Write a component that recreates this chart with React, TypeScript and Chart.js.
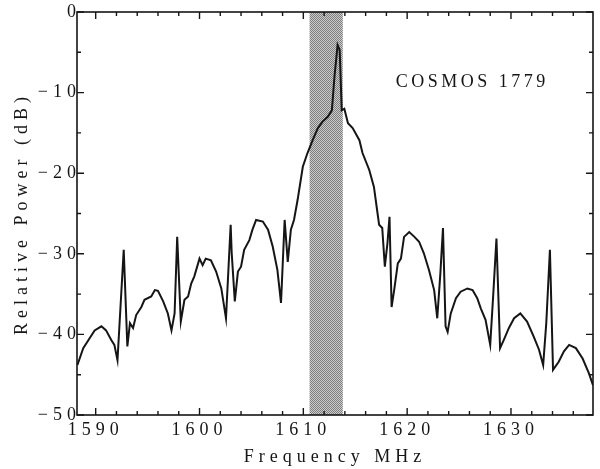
import { useEffect, useRef } from "react";
import { Chart, registerables } from "chart.js";

Chart.register(...registerables);

// ---- data ----
const frequencies = [
  1588.24, 1588.8, 1589.4, 1589.9, 1590.55, 1591.0, 1591.5, 1591.8, 1592.1, 1592.7,
  1593.05, 1593.3, 1593.6, 1593.9, 1594.4, 1594.7, 1595.35, 1595.7, 1596.0, 1596.5,
  1596.95, 1597.3, 1597.6, 1597.85, 1598.2, 1598.55, 1598.9, 1599.2, 1599.5, 1600.0,
  1600.3, 1600.6, 1601.1, 1601.6, 1602.1, 1602.55, 1603.0, 1603.1, 1603.4, 1603.7,
  1604.0, 1604.3, 1604.8, 1605.1, 1605.45, 1606.1, 1606.6, 1607.05, 1607.5, 1607.85,
  1608.2, 1608.5, 1608.8, 1609.1, 1609.45, 1609.95, 1610.4, 1610.9, 1611.4, 1611.85,
  1612.35, 1612.75, 1613.0, 1613.3, 1613.5, 1613.7, 1613.95, 1614.3, 1614.75, 1615.4,
  1615.7, 1616.35, 1616.8, 1617.15, 1617.3, 1617.6, 1617.85, 1618.1, 1618.3, 1618.5,
  1618.75, 1619.1, 1619.4, 1619.7, 1620.2, 1620.7, 1621.15, 1621.6, 1622.1, 1622.6,
  1622.9, 1623.2, 1623.45, 1623.7, 1623.9, 1624.2, 1624.7, 1625.15, 1625.8, 1626.3,
  1626.75, 1627.1, 1627.55, 1628.0, 1628.3, 1628.6, 1628.95, 1629.3, 1629.8, 1630.3,
  1630.9, 1631.55, 1632.2, 1632.7, 1633.1, 1633.4, 1633.75, 1634.05, 1634.6, 1635.1,
  1635.6, 1636.25, 1636.9, 1637.5, 1637.9,
];

const power = [
  -43.8, -41.7, -40.5, -39.5, -39.0, -39.5, -40.7, -41.3, -43.2, -29.5,
  -41.5, -38.6, -39.2, -37.6, -36.6, -35.7, -35.3, -34.5, -34.6, -35.9,
  -37.4, -39.5, -37.4, -27.9, -38.4, -35.7, -35.3, -33.7, -32.8, -30.6,
  -31.4, -30.6, -30.8, -32.2, -34.3, -38.0, -26.4, -29.9, -35.9, -32.2,
  -31.6, -29.5, -28.3, -27.0, -25.8, -26.0, -27.0, -29.1, -32.0, -36.1,
  -25.8, -31.0, -27.0, -25.8, -23.3, -19.2, -17.5, -15.9, -14.4, -13.6,
  -13.0, -12.2, -8.0, -4.1, -4.7, -12.2, -12.0, -13.8, -14.4, -15.9,
  -17.5, -19.6, -21.7, -25.0, -26.4, -26.8, -31.6, -28.7, -25.4, -36.6,
  -34.5, -31.2, -30.6, -27.9, -27.3, -27.9, -28.5, -29.9, -32.0, -34.5,
  -38.0, -32.4, -26.8, -39.0, -39.7, -37.4, -35.5, -34.7, -34.3, -34.5,
  -35.5, -36.8, -38.2, -41.3, -34.9, -28.1, -41.7, -40.7, -39.2, -38.0,
  -37.4, -38.4, -40.3, -41.9, -43.8, -38.6, -29.5, -44.4, -43.4, -42.1,
  -41.3, -41.7, -43.0, -44.8, -46.3,
];

const xTicks = [1590, 1600, 1610, 1620, 1630];
const xMinorTicks = [
  1590, 1592, 1594, 1596, 1598, 1600, 1602, 1604, 1606, 1608, 1610, 1612,
  1614, 1616, 1618, 1620, 1622, 1624, 1626, 1628, 1630, 1632, 1634, 1636,
];
const yTicks = [-50, -40, -30, -20, -10, 0];
const yMinorTicks = [-45, -35, -25, -15, -5];
const band = [1610.6, 1613.8];
const annotationText = "COSMOS 1779";
const annotationAt = [1618.9, -8.7];

const FONT = "'Liberation Serif', 'DejaVu Serif', serif";
const SPACING = "5px";
const INK = "#151515";

function setSpacing(chart: any) {
  try {
    (chart.ctx as any).letterSpacing = SPACING;
  } catch (e) {}
}

const spacingPlugin = {
  id: "spacing",
  beforeUpdate: setSpacing,
  beforeLayout: setSpacing,
  beforeDraw: setSpacing,
};

let bandPattern: CanvasPattern | string | null = null;
function getPattern(ctx: CanvasRenderingContext2D) {
  if (bandPattern) return bandPattern;
  const c = document.createElement("canvas");
  c.width = 2;
  c.height = 2;
  const p = c.getContext("2d");
  if (!p) return "#a0a0a0";
  p.fillStyle = "#cdcdcd";
  p.fillRect(0, 0, 2, 2);
  p.fillStyle = "#7c7c7c";
  p.fillRect(0, 0, 1, 1);
  p.fillRect(1, 1, 1, 1);
  bandPattern = ctx.createPattern(c, "repeat") || "#a0a0a0";
  return bandPattern;
}

const bandPlugin = {
  id: "band",
  beforeDatasetsDraw(chart: any) {
    const { ctx, chartArea, scales } = chart;
    const x0 = scales.x.getPixelForValue(band[0]);
    const x1 = scales.x.getPixelForValue(band[1]);
    ctx.save();
    ctx.fillStyle = getPattern(ctx);
    ctx.fillRect(x0, chartArea.top, x1 - x0, chartArea.bottom - chartArea.top);
    ctx.restore();
  },
};

const framePlugin = {
  id: "frame",
  afterDatasetsDraw(chart: any) {
    const { ctx, chartArea, scales } = chart;
    const { left, right, top, bottom } = chartArea;
    ctx.save();
    ctx.strokeStyle = INK;
    ctx.lineWidth = 1.6;
    ctx.strokeRect(left, top, right - left, bottom - top);
    ctx.lineWidth = 1.4;
    ctx.beginPath();
    for (const v of xMinorTicks) {
      const px = scales.x.getPixelForValue(v);
      const len = xTicks.includes(v) ? 7 : 4;
      ctx.moveTo(px, bottom);
      ctx.lineTo(px, bottom - len);
      ctx.moveTo(px, top);
      ctx.lineTo(px, top + len);
    }
    const allY = [...yTicks, ...yMinorTicks];
    for (const v of allY) {
      const py = scales.y.getPixelForValue(v);
      const len = yTicks.includes(v) ? 7 : 4;
      ctx.moveTo(left, py);
      ctx.lineTo(left + len, py);
      ctx.moveTo(right, py);
      ctx.lineTo(right - len, py);
    }
    ctx.stroke();

    // annotation
    (ctx as any).letterSpacing = "3.5px";
    ctx.fillStyle = INK;
    ctx.font = `18px ${FONT}`;
    ctx.textAlign = "left";
    ctx.textBaseline = "middle";
    ctx.fillText(
      annotationText,
      scales.x.getPixelForValue(annotationAt[0]),
      scales.y.getPixelForValue(annotationAt[1])
    );
    ctx.restore();
  },
};

export default function App() {
  const canvasRef = useRef<HTMLCanvasElement | null>(null);

  useEffect(() => {
    if (!canvasRef.current) return;
    const chart = new Chart(canvasRef.current, {
      type: "line",
      data: {
        datasets: [
          {
            label: "Relative Power",
            data: frequencies.map((f, i) => ({ x: f, y: power[i] })),
            borderColor: INK,
            borderWidth: 2,
            pointRadius: 0,
            tension: 0,
            fill: false,
          },
        ],
      },
      options: {
        animation: false,
        responsive: true,
        maintainAspectRatio: false,
        layout: { padding: { top: 12, right: 7, left: 0, bottom: 0 } },
        plugins: {
          legend: { display: false },
          tooltip: { enabled: false },
        },
        scales: {
          x: {
            type: "linear",
            min: 1588.2,
            max: 1637.9,
            afterBuildTicks: (s: any) => {
              s.ticks = xTicks.map((v) => ({ value: v }));
            },
            afterFit: (s: any) => {
              s.height = 54;
            },
            grid: { display: false, drawTicks: false },
            border: { display: false },
            ticks: {
              color: INK,
              font: { family: FONT, size: 18 },
              padding: 4,
              maxRotation: 0,
              autoSkip: false,
              callback: (v: any) => String(v),
            },
            title: {
              display: true,
              text: "Frequency MHz",
              color: INK,
              font: { family: FONT, size: 18 },
              padding: { top: 0, bottom: 1 },
            },
          },
          y: {
            type: "linear",
            min: -50,
            max: 0,
            afterBuildTicks: (s: any) => {
              s.ticks = yTicks.map((v) => ({ value: v }));
            },
            afterFit: (s: any) => {
              s.width = 77;
            },
            grid: { display: false, drawTicks: false },
            border: { display: false },
            ticks: {
              color: INK,
              font: { family: FONT, size: 18 },
              padding: -4,
              autoSkip: false,
              callback: (v: any) =>
                Number(v) === 0 ? "0" : "\u2212" + Math.abs(Number(v)),
            },
            title: {
              display: true,
              text: "Relative Power (dB)",
              color: INK,
              font: { family: FONT, size: 18 },
              padding: { top: 11, bottom: 0 },
            },
          },
        },
      },
      plugins: [spacingPlugin, bandPlugin, framePlugin],
    });
    return () => chart.destroy();
  }, []);

  return (
    <div
      style={{
        position: "fixed",
        left: 0,
        top: 0,
        width: 600,
        height: 469,
        background: "#fff",
      }}
    >
      <canvas ref={canvasRef} />
    </div>
  );
}
